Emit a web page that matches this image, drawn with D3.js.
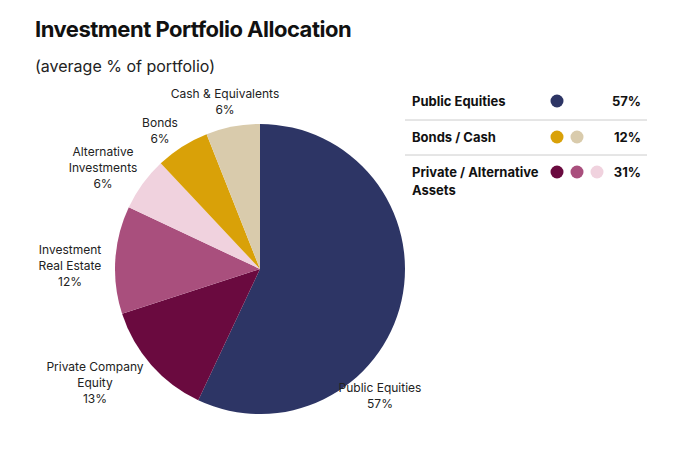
<!DOCTYPE html>
<html><head><meta charset="utf-8">
<script src="https://cdn.jsdelivr.net/npm/d3@7"></script>
<style>body{margin:0;background:#fff;font-family:Inter,"Noto Sans",sans-serif;}</style>
</head><body>
<svg id="c" width="680" height="452"></svg>
<script>
const categories=["Public Equities","Private Company Equity","Investment Real Estate","Alternative Investments","Bonds","Cash & Equivalents"];
const values=[57,13,12,6,6,6];
const colors=["#2d3565","#6a0a3f","#a94f7d","#f0d2de","#d9a108","#d9cbac"];
const labelLines=[["Public Equities","57%"],["Private Company","Equity","13%"],["Investment","Real Estate","12%"],["Alternative","Investments","6%"],["Bonds","6%"],["Cash & Equivalents","6%"]];
const legendGroups=["Public Equities","Bonds / Cash","Private / Alternative"];
const legendPct=["57%","12%","31%"];
const legendColorIdx=[[0],[4,5],[1,2,3]];

const svg=d3.select("#c");
svg.append("text").attr("x",35).attr("y",37).attr("font-size",22).attr("font-weight",700).attr("fill","#111").attr("letter-spacing",-0.5).text("Investment Portfolio Allocation");
svg.append("text").attr("x",35).attr("y",72).attr("font-size",16).attr("fill","#222").text("(average % of portfolio)");

const cx=260,cy=269,r=145;
const pie=d3.pie().sort(null).value(d=>d)(values);
const arc=d3.arc().innerRadius(0).outerRadius(r);
const g=svg.append("g").attr("transform",`translate(${cx},${cy})`);
g.selectAll("path").data(pie).join("path").attr("d",arc).attr("fill",(d,i)=>colors[i]);

const labelPos=[[380,392,"middle"],[95,371,"middle"],[70,254,"middle"],[103,156,"middle"],[160,127,"middle"],[225,98,"middle"]];
labelPos.forEach((p,i)=>{
  const t=svg.append("text").attr("x",p[0]).attr("y",p[1]).attr("text-anchor",p[2]).attr("font-size",12).attr("fill","#222");
  labelLines[i].forEach((l,j)=>t.append("tspan").attr("x",p[0]).attr("dy",j?16:0).text(l));
});

const ly=[101,137,172];
legendGroups.forEach((name,i)=>{
  const t=svg.append("text").attr("x",412).attr("y",ly[i]+5).attr("font-size",13).attr("font-weight",700).attr("fill","#111");
  if(i==2){t.append("tspan").attr("x",412).text("Private / Alternative");t.append("tspan").attr("x",412).attr("dy",18).text("Assets");}
  else t.text(name);
  legendColorIdx[i].forEach((ci,k)=>svg.append("circle").attr("cx",557+k*20).attr("cy",ly[i]).attr("r",6.5).attr("fill",colors[ci]));
  svg.append("text").attr("x",641).attr("y",ly[i]+5).attr("text-anchor","end").attr("font-size",13).attr("font-weight",700).attr("fill","#111").text(legendPct[i]);
});
[120,155].forEach(y=>svg.append("line").attr("x1",405).attr("x2",647).attr("y1",y).attr("y2",y).attr("stroke","#ccc").attr("stroke-width",1));
</script>
</body></html>
